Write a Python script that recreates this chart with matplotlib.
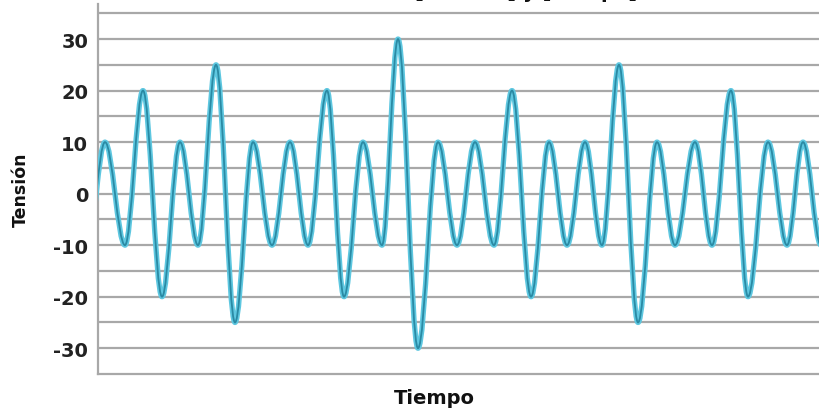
import matplotlib
matplotlib.use("Agg")
import matplotlib.pyplot as plt
from matplotlib.path import Path
from matplotlib.patches import PathPatch

# Successive peaks and troughs of the composite voltage waveform
# (time in arbitrary units; 0-100 is the visible window)
tiempo_extremos = [-1.46, 0.97, 3.74, 6.24, 8.88, 11.37, 13.87, 16.37, 19.00, 21.50,
                   24.13, 26.63, 29.13, 31.76, 34.12, 36.75, 39.39, 41.61, 44.38, 47.16,
                   49.79, 52.29, 54.92, 57.42, 60.06, 62.55, 65.05, 67.55, 69.90, 72.26,
                   74.90, 77.53, 80.03, 82.80, 85.16, 87.79, 90.15, 92.93, 95.56, 97.78,
                   100.28]
tension_extremos = [-10, 10, -10, 20, -20, 10, -10, 25, -25, 10,
                    -10, 10, -10, 20, -20, 10, -10, 30, -30, 10,
                    -10, 10, -10, 20, -20, 10, -10, 10, -10, 25,
                    -25, 10, -10, 10, -10, 20, -20, 10, -10, 10,
                    -10]

y_ticks = [-30, -20, -10, 0, 10, 20, 30]
y_tick_labels = ["-30", "-20", "-10", "0", "10", "20", "30"]
grid_levels = [-30, -25, -20, -15, -10, -5, 0, 5, 10, 15, 20, 25, 30, 35]
x_label = "Tiempo"
y_label = "Tensión"
titulo = "[Tensión] y [tiempo]"


def smooth_wave(t, v, k=0.364):
    """Cubic Bezier path through the extrema with flat tangents at each one."""
    verts = [(t[0], v[0])]
    codes = [Path.MOVETO]
    for i in range(len(t) - 1):
        dt = t[i + 1] - t[i]
        verts += [(t[i] + k * dt, v[i]),
                  (t[i + 1] - k * dt, v[i + 1]),
                  (t[i + 1], v[i + 1])]
        codes += [Path.CURVE4] * 3
    return Path(verts, codes)


fig = plt.figure(figsize=(8.19, 4.14), dpi=100)
ax = fig.add_axes([98 / 819, 39 / 414, 721 / 819, 370 / 414])

ax.set_xlim(0, 100)
ax.set_ylim(-35, 36.8)

grid_col = "#a8a8a8"
for lvl in grid_levels:
    ax.axhline(lvl, color=grid_col, lw=1.6, zorder=1)

wave = smooth_wave(tiempo_extremos, tension_extremos)
ax.add_patch(PathPatch(wave, fill=False, edgecolor="#5ec7e0", lw=3.8,
                       capstyle="round", joinstyle="round", zorder=3))
ax.add_patch(PathPatch(wave, fill=False, edgecolor="#2a8aa4", lw=1.3,
                       capstyle="round", joinstyle="round", zorder=4))

ax.set_xticks([])
ax.set_yticks(y_ticks)
ax.set_yticklabels(y_tick_labels, fontsize=14, fontweight="bold", color="#222222")
ax.tick_params(axis="y", length=0, pad=7)

for side in ("top", "right"):
    ax.spines[side].set_visible(False)
for side in ("left", "bottom"):
    ax.spines[side].set_color(grid_col)
    ax.spines[side].set_linewidth(1.6)

ax.set_ylabel(y_label, fontsize=12.5, fontweight="bold", color="#111111")
ax.yaxis.set_label_coords(-0.095, 0.5)
ax.set_xlabel(x_label, fontsize=14, fontweight="bold", color="#111111")
ax.xaxis.set_label_coords(0.466, -0.038)

# Title sits mostly above the top edge of the canvas
fig.text(415 / 819, 1 + 2.5 / 414, titulo, fontsize=14, fontweight="bold",
         color="#111111", ha="left", va="baseline")

fig.savefig("out.png", dpi=100)
